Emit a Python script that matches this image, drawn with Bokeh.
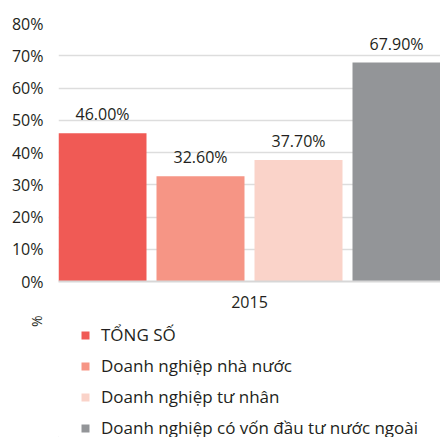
from bokeh.plotting import figure
from bokeh.layouts import column
from bokeh.models import FactorRange, Range1d, Legend, LegendItem, Title, NumeralTickFormatter, FixedTicker
from bokeh.transform import dodge
from bokeh.core.properties import value
from bokeh.embed import file_html
from bokeh.resources import INLINE

years = ["2015"]
series = ["TỔNG SỐ", "Doanh nghiệp nhà nước", "Doanh nghiệp tư nhân",
          "Doanh nghiệp có vốn đầu tư nước ngoài"]
values = [0.46, 0.326, 0.377, 0.679]
labels = ["46.00%", "32.60%", "37.70%", "67.90%"]
colors = ["#F05A55", "#F69585", "#FAD3C9", "#939598"]
y_ticks = [0, 0.1, 0.2, 0.3, 0.4, 0.5, 0.6, 0.7, 0.8]
y_title = "%"

FONT = "Open Sans"
TXT = "#231f20"

H1 = 312
p = figure(width=440, height=H1, output_backend="svg", toolbar_location=None,
           x_range=FactorRange(factors=years, range_padding=0),
           y_range=Range1d(0, 0.8),
           min_border_left=58, min_border_right=0, min_border_top=23, min_border_bottom=H1 - 281)
p.outline_line_color = None

spacing = 98 / 382
width = 88 / 382
offsets = [(i - 1.5) * spacing for i in range(len(series))]

for name, v, lab, c, off in zip(series, values, labels, colors, offsets):
    src = dict(year=years, v=[v], lab=[lab])
    p.vbar(x=dodge("year", off, range=p.x_range), top="v", width=width, source=src,
           fill_color=c, line_color=None)
    p.text(x=dodge("year", off, range=p.x_range), y="v", text="lab", source=src,
           text_align="center", text_baseline="bottom", y_offset=-8,
           text_font=value(FONT), text_font_size="16px", text_color=TXT)

p.yaxis.ticker = FixedTicker(ticks=y_ticks)
p.yaxis.formatter = NumeralTickFormatter(format="0%")
p.yaxis.axis_line_color = None
p.yaxis.major_tick_line_color = None
p.yaxis.minor_tick_line_color = None
p.yaxis.major_label_text_font = FONT
p.yaxis.major_label_text_font_size = "16px"
p.yaxis.major_label_text_color = TXT
p.yaxis.major_label_standoff = 9

p.xaxis.axis_line_color = "#d7d7d7"
p.xaxis.axis_line_width = 2
p.xaxis.major_tick_line_color = None
p.xaxis.minor_tick_line_color = None
p.xaxis.major_label_text_font = FONT
p.xaxis.major_label_text_font_size = "16px"
p.xaxis.major_label_text_color = TXT
p.xaxis.major_label_standoff = 8

p.xgrid.grid_line_color = None
p.ygrid.grid_line_color = "#dddddd"
p.ygrid.grid_line_width = 1.5

# legend panel (frame aligned with the chart frame: x 58..440)
H2 = 437 - H1
q = figure(width=440, height=H2, output_backend="svg", toolbar_location=None,
           x_range=Range1d(0, 382), y_range=Range1d(0, H2),
           x_axis_location=None, y_axis_location=None,
           min_border_left=58, min_border_right=0, min_border_top=0, min_border_bottom=0)
q.grid.grid_line_color = None
q.outline_line_color = None

items = []
for name, v, c in zip(series, values, colors):
    r = q.vbar(x=[-1000], top=[v], width=10, fill_color=c, line_color=None)
    items.append(LegendItem(label=name, renderers=[r]))

legend = Legend(items=items, location=(22, -2), orientation="vertical",
                glyph_width=10, glyph_height=10, label_height=14, spacing=8,
                label_standoff=11, padding=0, margin=0, border_line_color=None,
                background_fill_alpha=0,
                label_text_font=FONT, label_text_font_size="17px", label_text_color=TXT)
q.add_layout(legend, "center")

ttl = Title(text=y_title, align="right", offset=3, standoff=10,
            text_font=FONT, text_font_size="14px", text_font_style="normal", text_color=TXT)
ttl_pad = Title(text=" ", standoff=0, text_font_size="6px")
q.add_layout(ttl_pad, "left")
q.add_layout(ttl, "left")

layout = column(p, q, spacing=0)
open("out.html", "w").write(file_html(layout, INLINE))
